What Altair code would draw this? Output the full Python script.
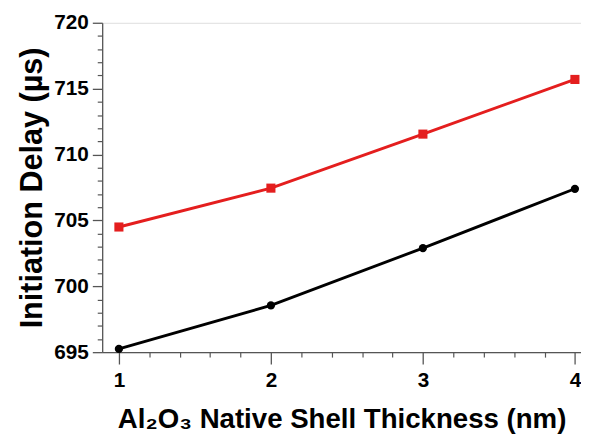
import altair as alt
import pandas as pd

# ---- data ----
thickness = [1, 2, 3, 4]
delay_ratio_10 = [704.5, 707.45, 711.55, 715.7]
delay_ratio_12 = [695.25, 698.55, 702.9, 707.4]
ratios = ["1.0", "1.2"]
colors = ["#e41e1e", "#000000"]

x_major = [1, 2, 3, 4]
x_minor = [1.2, 1.4, 1.6, 1.8, 2.2, 2.4, 2.6, 2.8, 3.2, 3.4, 3.6, 3.8]
y_major = [695, 700, 705, 710, 715, 720]
y_minor = [696, 697, 698, 699, 701, 702, 703, 704, 706, 707, 708, 709,
           711, 712, 713, 714, 716, 717, 718, 719]

df = pd.DataFrame({
    "thickness": thickness + thickness,
    "delay": delay_ratio_10 + delay_ratio_12,
    "ratio": [ratios[0]] * len(thickness) + [ratios[1]] * len(thickness),
})

FONT = "Liberation Sans"
AX = "#555555"

x_scale = alt.Scale(domain=[0.89, 4.04], nice=False, zero=False)
y_scale = alt.Scale(domain=[695, 720], nice=False, zero=False)

x_main = alt.X("thickness:Q", scale=x_scale, axis=alt.Axis(
    values=x_major, format="d", orient="bottom",
    title="Al₂O₃ Native Shell Thickness (nm)",
    grid=False, tickSize=12, tickWidth=1.3, tickColor=AX,
    domainColor=AX, domainWidth=1.3,
    labelFont=FONT, labelFontSize=21, labelFontWeight="bold", labelColor="black",
    labelPadding=6, labelFlush=False, labelOverlap=False,
    titleFont=FONT, titleFontSize=28, titleFontWeight="bold", titleColor="black",
    titleBaseline="alphabetic", titleY=76))
y_main = alt.Y("delay:Q", scale=y_scale, axis=alt.Axis(
    values=y_major, format="d", orient="left",
    title="Initiation Delay (µs)",
    grid=False, tickSize=10, tickWidth=1.3, tickColor=AX,
    domainColor=AX, domainWidth=1.3,
    labelFont=FONT, labelFontSize=21, labelFontWeight="bold", labelColor="black",
    labelPadding=4, labelFlush=False, labelOverlap=False,
    titleFont=FONT, titleFontSize=31, titleFontWeight="bold", titleColor="black",
    titleBaseline="alphabetic", titleX=-62))

x_minor_enc = alt.X("thickness:Q", scale=x_scale, axis=alt.Axis(
    values=x_minor, orient="bottom", labels=False, title=None, domain=False,
    grid=False, tickSize=5, tickWidth=1.2, tickColor=AX))
y_minor_enc = alt.Y("delay:Q", scale=y_scale, axis=alt.Axis(
    values=y_minor, orient="left", labels=False, title=None, domain=False,
    grid=False, tickSize=5, tickWidth=1.2, tickColor=AX))

x_plain = alt.X("thickness:Q", scale=x_scale, axis=None)
y_plain = alt.Y("delay:Q", scale=y_scale, axis=None)

base = alt.Chart(df)

lines = base.mark_line(strokeWidth=2.9).encode(
    x=x_main, y=y_main,
    color=alt.Color("ratio:N", scale=alt.Scale(domain=ratios, range=colors), legend=None),
)

squares = base.transform_filter(f"datum.ratio == '{ratios[0]}'").mark_square(
    size=85, opacity=1, color=colors[0]).encode(x=x_plain, y=y_plain)
circles = base.transform_filter(f"datum.ratio == '{ratios[1]}'").mark_circle(
    size=70, opacity=1, color=colors[1]).encode(x=x_plain, y=y_plain)

sym_square = "M-1,0H1M-0.2,-0.2H0.2V0.2H-0.2Z"
sym_circle = "M-1,0H1M0.16,0A0.16,0.16,0,1,1,-0.16,0A0.16,0.16,0,1,1,0.16,0Z"

legend_layer = base.transform_filter("false").mark_point(
    filled=True, opacity=1, strokeWidth=2.6).encode(
    x=x_minor_enc, y=y_minor_enc,
    shape=alt.Shape("ratio:N", scale=alt.Scale(domain=ratios, range=[sym_square, sym_circle]),
                    legend=alt.Legend(
                        title="Stoichiometric Ratio\u00a0\u00a0", orient="none",
                        legendX=10.5, legendY=9, padding=9,
                        strokeColor="#444444", fillColor="white", cornerRadius=0,
                        titleFont=FONT, titleFontSize=20, titleFontWeight="bold",
                        titleColor="black", titlePadding=4,
                        labelFont=FONT, labelFontSize=22, labelFontWeight="bold",
                        labelColor="black", labelOffset=4,
                        symbolSize=1296, symbolStrokeWidth=2.6, symbolOpacity=1,
                        rowPadding=3)),
    fill=alt.Fill("ratio:N", scale=alt.Scale(domain=ratios, range=colors)),
    stroke=alt.Stroke("ratio:N", scale=alt.Scale(domain=ratios, range=colors)),
)

chart = alt.layer(lines, squares, circles, legend_layer).resolve_axis(
    x="independent", y="independent"
).properties(
    width=485.5, height=334,
    padding={"left": 95.5, "top": 12, "right": 0, "bottom": 81},
    autosize=alt.AutoSizeParams(type="none"),
).configure_view(stroke=None).configure(font=FONT)

chart.save("out.html", embed_options={"renderer": "svg", "actions": False})
